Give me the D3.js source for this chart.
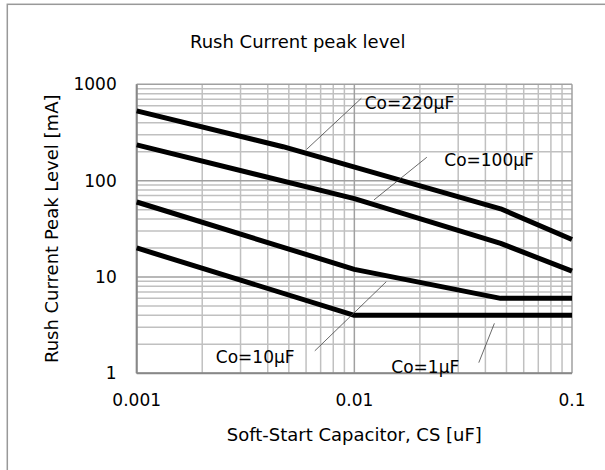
<!DOCTYPE html>
<html>
<head>
<meta charset="utf-8">
<script src="https://cdn.jsdelivr.net/npm/d3@7"></script>
<style>
  body { margin: 0; background: #fff; }
  text { font-family: "DejaVu Sans", Verdana, sans-serif; fill: #000; }
</style>
</head>
<body>
<svg id="chart" width="605" height="470"></svg>
<script>
// soft-start capacitor (uF) and rush current peak (mA), per output capacitor
var cs220 = [0.001, 0.0047, 0.047, 0.1],
    peak220 = [530, 225, 51, 24.5];
var cs100 = [0.001, 0.01, 0.047, 0.1],
    peak100 = [235, 65, 22.3, 11.5];
var cs10 = [0.001, 0.01, 0.047, 0.1],
    peak10 = [60, 12, 6, 6];
var cs1 = [0.001, 0.01, 0.1],
    peak1 = [20, 4, 4];

var xTicks = [0.001, 0.01, 0.1],
    xTickLabels = ["0.001", "0.01", "0.1"];
var yTicks = [1, 10, 100, 1000],
    yTickLabels = ["1", "10", "100", "1000"];

// label text, label anchor (cs, mA), leader line from/to (cs, mA)
var labelNames = ["Co=220µF", "Co=100µF", "Co=10µF", "Co=1µF"];
var labelAt = [[0.01115, 640], [0.0259, 164], [0.00231, 1.486], [0.01479, 1.17]];
var leaderFrom = [[0.01077, 716], [0.02153, 175], [0.00658, 1.71], [0.0373, 1.29]];
var leaderTo = [[0.00603, 211], [0.0123, 63], [0.01402, 8.93], [0.044, 3.3]];

var svg = d3.select("#chart"),
    margin = {top: 84.3, right: 33, bottom: 96.7, left: 136.7},
    width = +svg.attr("width") - margin.left - margin.right,
    height = +svg.attr("height") - margin.top - margin.bottom;

// outer frame
svg.append("rect")
    .attr("x", 7.3).attr("y", 4.3)
    .attr("width", 640).attr("height", 500)
    .attr("fill", "none").attr("stroke", "#999").attr("stroke-width", 1.5);

svg.append("text")
    .attr("x", 190).attr("y", 47.5)
    .style("font-size", "18px")
    .text("Rush Current peak level");

var g = svg.append("g").attr("transform", "translate(" + margin.left + "," + margin.top + ")");

var x = d3.scaleLog().domain([0.001, 0.1]).range([0, width]),
    y = d3.scaleLog().domain([1, 1000]).range([height, 0]);

// minor and major grid
var minorX = [], minorY = [];
[0.001, 0.01].forEach(function (d) {
    for (var k = 2; k <= 9; k++) minorX.push(d * k);
});
[1, 10, 100].forEach(function (d) {
    for (var k = 2; k <= 9; k++) minorY.push(d * k);
});

g.selectAll(".gx").data(minorX).enter().append("line")
    .attr("x1", function (d) { return x(d); }).attr("x2", function (d) { return x(d); })
    .attr("y1", 0).attr("y2", height)
    .attr("stroke", "#c0c0c0").attr("stroke-width", 1.5);
g.selectAll(".gy").data(minorY).enter().append("line")
    .attr("y1", function (d) { return y(d); }).attr("y2", function (d) { return y(d); })
    .attr("x1", 0).attr("x2", width)
    .attr("stroke", "#c0c0c0").attr("stroke-width", 1.5);

g.selectAll(".mx").data(xTicks).enter().append("line")
    .attr("x1", function (d) { return x(d); }).attr("x2", function (d) { return x(d); })
    .attr("y1", 0).attr("y2", height)
    .attr("stroke", "#a0a0a0").attr("stroke-width", 1.5);
g.selectAll(".my").data(yTicks).enter().append("line")
    .attr("y1", function (d) { return y(d); }).attr("y2", function (d) { return y(d); })
    .attr("x1", 0).attr("x2", width)
    .attr("stroke", "#a0a0a0").attr("stroke-width", 1.5);

// axis lines
g.append("line").attr("x1", 0).attr("x2", 0).attr("y1", 0).attr("y2", height)
    .attr("stroke", "#888").attr("stroke-width", 2);
g.append("line").attr("x1", 0).attr("x2", width).attr("y1", height).attr("y2", height)
    .attr("stroke", "#888").attr("stroke-width", 2);

// tick labels
g.selectAll(".xl").data(xTicks).enter().append("text")
    .attr("x", function (d) { return x(d); })
    .attr("y", height + 33)
    .attr("text-anchor", "middle")
    .style("font-size", "17px")
    .text(function (d, i) { return xTickLabels[i]; });
g.selectAll(".yl").data(yTicks).enter().append("text")
    .attr("x", -20)
    .attr("y", function (d) { return y(d); })
    .attr("dy", "0.35em")
    .attr("text-anchor", "end")
    .style("font-size", "17px")
    .text(function (d, i) { return yTickLabels[i]; });

// axis titles
g.append("text")
    .attr("x", width / 2).attr("y", height + 67.5)
    .attr("text-anchor", "middle")
    .style("font-size", "18px")
    .text("Soft-Start Capacitor, CS [uF]");
g.append("text")
    .attr("transform", "translate(" + (51.7 - margin.left) + "," + (height / 2) + ") rotate(-90)")
    .attr("dy", "0.35em")
    .attr("text-anchor", "middle")
    .style("font-size", "18px")
    .text("Rush Current Peak Level [mA]");

// curves
var series = [
    {cs: cs220, peak: peak220},
    {cs: cs100, peak: peak100},
    {cs: cs10, peak: peak10},
    {cs: cs1, peak: peak1}
];
var line = d3.line()
    .x(function (d) { return x(d[0]); })
    .y(function (d) { return y(d[1]); });

g.selectAll(".curve").data(series).enter().append("path")
    .attr("class", "curve")
    .attr("d", function (s) { return line(d3.zip(s.cs, s.peak)); })
    .attr("fill", "none")
    .attr("stroke", "#000")
    .attr("stroke-width", 5)
    .attr("stroke-linejoin", "round");

// labels with leader lines
g.selectAll(".leader").data(labelNames).enter().append("line")
    .attr("x1", function (d, i) { return x(leaderFrom[i][0]); })
    .attr("y1", function (d, i) { return y(leaderFrom[i][1]); })
    .attr("x2", function (d, i) { return x(leaderTo[i][0]); })
    .attr("y2", function (d, i) { return y(leaderTo[i][1]); })
    .attr("stroke", "#444").attr("stroke-width", 0.8);
g.selectAll(".lab").data(labelNames).enter().append("text")
    .attr("x", function (d, i) { return x(labelAt[i][0]); })
    .attr("y", function (d, i) { return y(labelAt[i][1]); })
    .attr("dy", "0.35em")
    .style("font-size", "17px")
    .text(function (d) { return d; });
</script>
</body>
</html>
